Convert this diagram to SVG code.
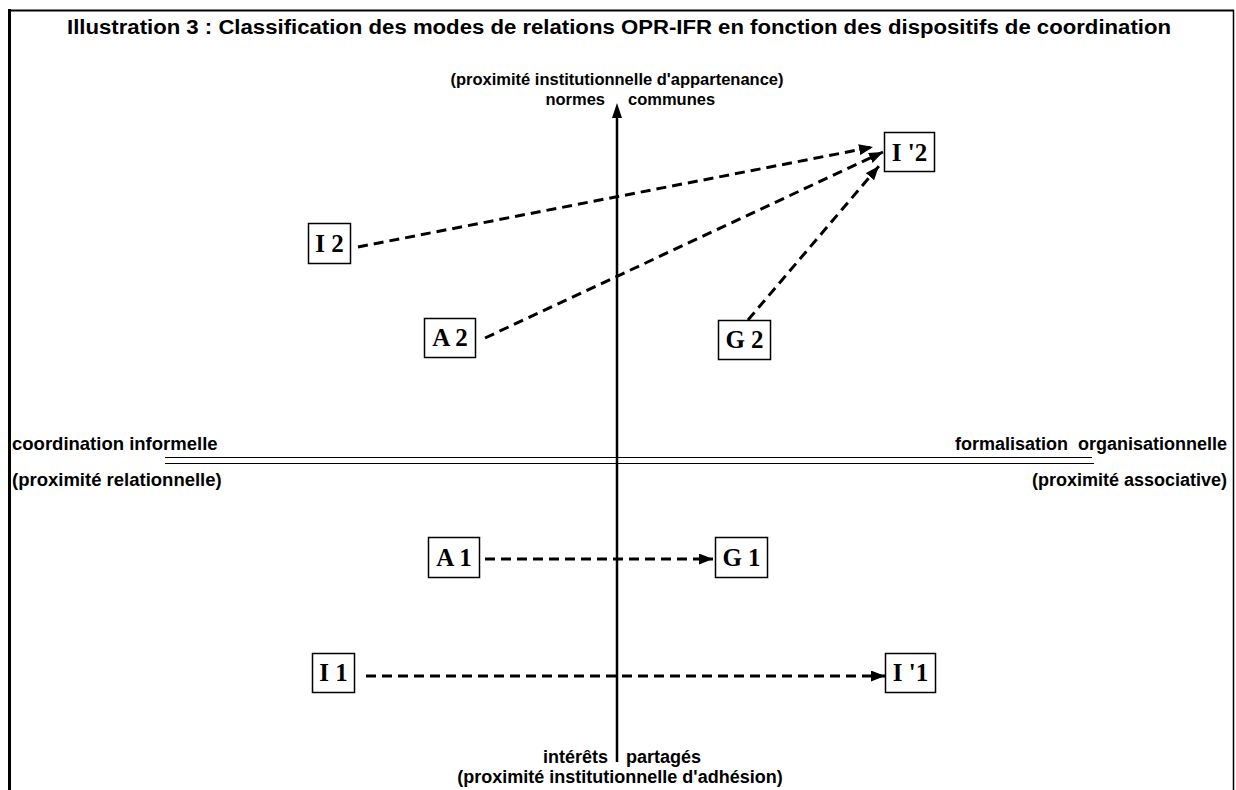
<svg xmlns="http://www.w3.org/2000/svg" width="1236" height="790" viewBox="0 0 1236 790">
<style>
.t{font-family:"Liberation Sans",Arial,sans-serif;font-weight:bold;fill:#000}
.n{font-family:"Liberation Serif","Times New Roman",serif;font-weight:bold;font-size:25px;fill:#000}
.box{fill:#fff;stroke:#000;stroke-width:1.5}
.dash{stroke:#000;stroke-width:3;stroke-dasharray:10 6;fill:none}
</style>
<defs>
<marker id="ah" viewBox="0 0 14 11" refX="14" refY="5.5" markerWidth="14" markerHeight="11" markerUnits="userSpaceOnUse" orient="auto">
<path d="M0,0 L14,5.5 L0,11 Z" fill="#000"/>
</marker>
</defs>
<rect width="1236" height="790" fill="#fff"/>
<g id="frame" stroke="#000" fill="none">
<line x1="9.5" y1="9" x2="9.5" y2="790" stroke-width="3"/>
<line x1="8" y1="10.5" x2="1234" y2="10.5" stroke-width="2"/>
<line x1="1233.5" y1="10" x2="1233.5" y2="790" stroke-width="1.5"/>
</g>
<text class="t" x="619" y="34" font-size="20" text-anchor="middle" textLength="1104" lengthAdjust="spacingAndGlyphs">Illustration 3 : Classification des modes de relations OPR-IFR en fonction des dispositifs de coordination</text>
<g id="axes">
<line x1="617" y1="762" x2="617" y2="117" stroke="#000" stroke-width="2.5"/>
<path d="M617,103 L622,118 L612,118 Z" fill="#000"/>
<line x1="165" y1="457.5" x2="1092" y2="457.5" stroke="#000" stroke-width="1.2"/>
<line x1="165" y1="463.5" x2="1094" y2="463.5" stroke="#000" stroke-width="1.2"/>
</g>
<g id="axis-labels" class="t">
<text x="617" y="85" font-size="16.5" text-anchor="middle">(proximité institutionnelle d'appartenance)</text>
<text x="605" y="105" font-size="16.5" text-anchor="end">normes</text>
<text x="628" y="105" font-size="16.5">communes</text>
<text x="12" y="450" font-size="18.5">coordination informelle</text>
<text x="12" y="486" font-size="18.5">(proximité relationnelle)</text>
<text x="1227" y="450" font-size="18" text-anchor="end" xml:space="preserve">formalisation  organisationnelle</text>
<text x="1227" y="486" font-size="18" text-anchor="end">(proximité associative)</text>
<text x="608" y="763" font-size="18" text-anchor="end">intérêts</text>
<text x="626" y="763" font-size="18">partagés</text>
<text x="620" y="783" font-size="18" text-anchor="middle">(proximité institutionnelle d'adhésion)</text>
</g>
<g id="connectors">
<line class="dash" x1="358" y1="247" x2="873" y2="147" marker-end="url(#ah)"/>
<line class="dash" x1="485" y1="338" x2="883" y2="152" marker-end="url(#ah)"/>
<line class="dash" x1="748" y1="320" x2="879" y2="166" marker-end="url(#ah)"/>
<line class="dash" x1="485" y1="559" x2="713" y2="559" marker-end="url(#ah)"/>
<line class="dash" x1="366" y1="676" x2="885" y2="676" marker-end="url(#ah)"/>
</g>
<g id="node-I2p"><rect class="box" x="884.5" y="132.5" width="50" height="39"/><text class="n" x="909.5" y="161" text-anchor="middle">I '2</text></g>
<g id="node-I2"><rect class="box" x="308.5" y="223.5" width="42" height="40"/><text class="n" x="329.5" y="252" text-anchor="middle">I 2</text></g>
<g id="node-A2"><rect class="box" x="424.5" y="318.5" width="51" height="39"/><text class="n" x="450" y="346" text-anchor="middle">A 2</text></g>
<g id="node-G2"><rect class="box" x="718.5" y="320.5" width="52" height="39"/><text class="n" x="744.5" y="348" text-anchor="middle">G 2</text></g>
<g id="node-A1"><rect class="box" x="428.5" y="537.5" width="51" height="40"/><text class="n" x="454" y="566" text-anchor="middle">A 1</text></g>
<g id="node-G1"><rect class="box" x="715.5" y="537.5" width="52" height="40"/><text class="n" x="741.5" y="566" text-anchor="middle">G 1</text></g>
<g id="node-I1"><rect class="box" x="312.5" y="653.5" width="42" height="39"/><text class="n" x="333.5" y="681" text-anchor="middle">I 1</text></g>
<g id="node-I1p"><rect class="box" x="885.5" y="653.5" width="50" height="39"/><text class="n" x="910.5" y="681" text-anchor="middle">I '1</text></g>
</svg>
